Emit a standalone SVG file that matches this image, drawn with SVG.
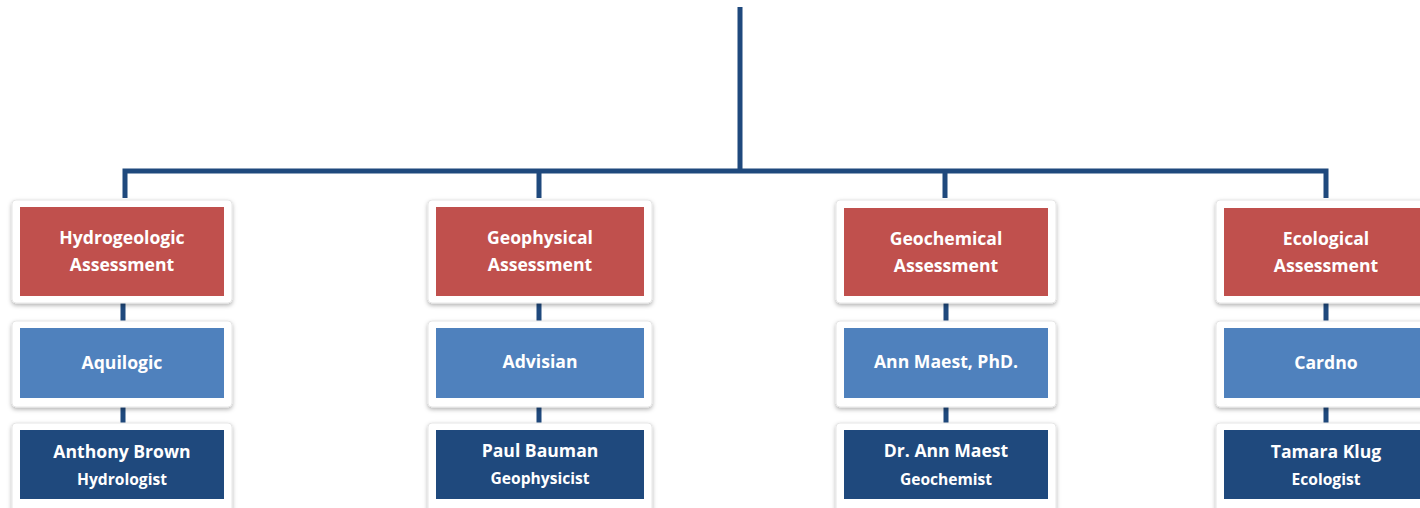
<svg xmlns="http://www.w3.org/2000/svg" width="1420" height="508" viewBox="0 0 1420 508">
<style>
.ln{stroke:#1F497D;stroke-width:5;fill:none}
.frame{fill:#fff;stroke:#e6e6e6;stroke-width:1;filter:url(#sh)}
.red{fill:#C0504D}
.blue{fill:#4F81BD}
.dark{fill:#1F497D}
text{font-family:"Open Sans","Liberation Sans",sans-serif;font-weight:bold;fill:#fff;text-anchor:middle}
.t1{font-size:17.6px}
.t2{font-size:15.6px}
</style>
<defs>
<filter id="sh" x="-10%" y="-10%" width="120%" height="130%">
<feDropShadow dx="0" dy="2" stdDeviation="2" flood-color="#000" flood-opacity="0.3"/>
</filter>
</defs>
<g id="connectors">
<path class="ln" d="M740 7V170M125 198V171H1326V198M539 171V198M945 171V198"/>
<path class="ln" d="M123 302V323M123 406V425M539 302V323M539 406V425M946 302V323M946 406V425M1326 302V323M1326 406V425"/>
</g>
<g id="n-hydro">
<rect class="frame" x="12" y="200" width="220" height="103" rx="4"/>
<rect class="red" x="20" y="207" width="204" height="89"/>
<text class="t1" x="122" y="244">Hydrogeologic</text>
<text class="t1" x="122" y="271">Assessment</text>
</g>
<g id="n-aquilogic">
<rect class="frame" x="12" y="321" width="220" height="86" rx="4"/>
<rect class="blue" x="20" y="328" width="204" height="70"/>
<text class="t1" x="122" y="369">Aquilogic</text>
</g>
<g id="n-brown">
<rect class="frame" x="12" y="423" width="220" height="90" rx="4"/>
<rect class="dark" x="20" y="430" width="204" height="69"/>
<text class="t1" x="122" y="458">Anthony Brown</text>
<text class="t2" x="122" y="485">Hydrologist</text>
</g>
<g id="n-geophys">
<rect class="frame" x="428" y="200" width="224" height="103" rx="4"/>
<rect class="red" x="436" y="207" width="208" height="89"/>
<text class="t1" x="540" y="244">Geophysical</text>
<text class="t1" x="540" y="271">Assessment</text>
</g>
<g id="n-advisian">
<rect class="frame" x="428" y="321" width="224" height="86" rx="4"/>
<rect class="blue" x="436" y="328" width="208" height="70"/>
<text class="t1" x="540" y="368">Advisian</text>
</g>
<g id="n-bauman">
<rect class="frame" x="428" y="423" width="224" height="90" rx="4"/>
<rect class="dark" x="436" y="430" width="208" height="69"/>
<text class="t1" x="540" y="457">Paul Bauman</text>
<text class="t2" x="540" y="484">Geophysicist</text>
</g>
<g id="n-geochem">
<rect class="frame" x="836" y="200" width="220" height="103" rx="4"/>
<rect class="red" x="844" y="208" width="204" height="88"/>
<text class="t1" x="946" y="245">Geochemical</text>
<text class="t1" x="946" y="272">Assessment</text>
</g>
<g id="n-maest-co">
<rect class="frame" x="836" y="321" width="220" height="86" rx="4"/>
<rect class="blue" x="844" y="328" width="204" height="70"/>
<text class="t1" x="946" y="368">Ann Maest, PhD.</text>
</g>
<g id="n-maest">
<rect class="frame" x="836" y="423" width="220" height="90" rx="4"/>
<rect class="dark" x="844" y="430" width="204" height="69"/>
<text class="t1" x="946" y="457">Dr. Ann Maest</text>
<text class="t2" x="946" y="485">Geochemist</text>
</g>
<g id="n-eco">
<rect class="frame" x="1216" y="200" width="224" height="103" rx="4"/>
<rect class="red" x="1224" y="208" width="208" height="88"/>
<text class="t1" x="1326" y="245">Ecological</text>
<text class="t1" x="1326" y="272">Assessment</text>
</g>
<g id="n-cardno">
<rect class="frame" x="1216" y="321" width="224" height="86" rx="4"/>
<rect class="blue" x="1224" y="328" width="208" height="70"/>
<text class="t1" x="1326" y="369">Cardno</text>
</g>
<g id="n-klug">
<rect class="frame" x="1216" y="423" width="224" height="90" rx="4"/>
<rect class="dark" x="1224" y="430" width="208" height="69"/>
<text class="t1" x="1326" y="458">Tamara Klug</text>
<text class="t2" x="1326" y="485">Ecologist</text>
</g>
</svg>
